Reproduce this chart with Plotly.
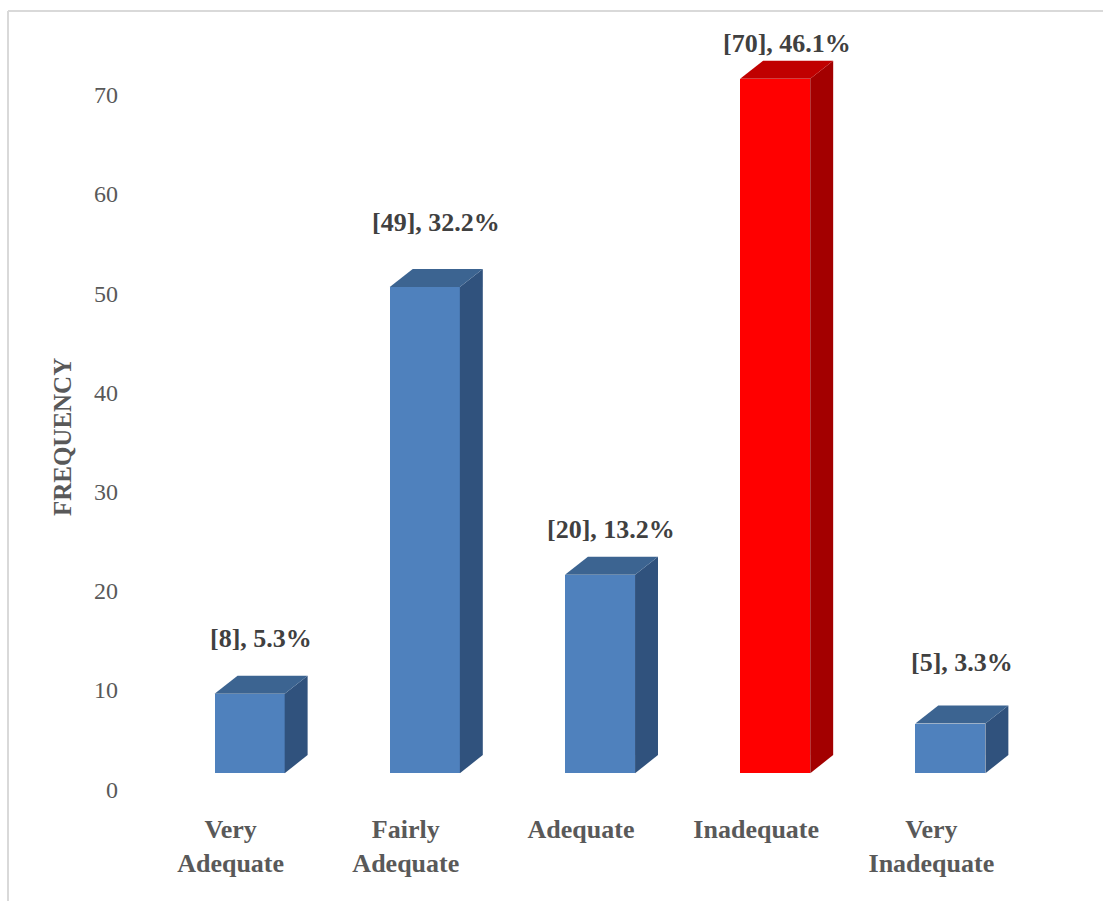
import plotly.graph_objects as go

# Survey responses
categories = ["Very<br>Adequate", "Fairly<br>Adequate", "Adequate", "Inadequate", "Very<br>Inadequate"]
frequency = [8, 49, 20, 70, 5]
percent = [5.3, 32.2, 13.2, 46.1, 3.3]
y_ticks = [0, 10, 20, 30, 40, 50, 60, 70]

# Styling
front_colors = ["#4F81BD", "#4F81BD", "#4F81BD", "#FF0000", "#4F81BD"]
top_colors = ["#3C6491", "#3C6491", "#3C6491", "#C00000", "#3C6491"]
side_colors = ["#30527D", "#30527D", "#30527D", "#A30000", "#30527D"]
label_lift = [5.6, 6.5, 4.6, 3.5, 6.2]   # vertical gap between bar top and its label

BAR_W = 0.4      # front face width (x units)
DEPTH_X = 0.131  # oblique depth along x
DEPTH_Y = 1.82   # oblique depth along y

x_pos = list(range(len(categories)))

fig = go.Figure()

# Side and top faces of each bar give the extruded look
for i, v in zip(x_pos, frequency):
    xr = i + BAR_W / 2
    xl = i - BAR_W / 2
    fig.add_trace(go.Scatter(
        x=[xr, xr + DEPTH_X, xr + DEPTH_X, xr, xr],
        y=[0, DEPTH_Y, v + DEPTH_Y, v, 0],
        fill="toself", fillcolor=side_colors[i], mode="lines",
        line=dict(width=0), hoverinfo="skip", showlegend=False))
    fig.add_trace(go.Scatter(
        x=[xl, xr, xr + DEPTH_X, xl + DEPTH_X, xl],
        y=[v, v, v + DEPTH_Y, v + DEPTH_Y, v],
        fill="toself", fillcolor=top_colors[i], mode="lines",
        line=dict(width=0), hoverinfo="skip", showlegend=False))

# Front faces
fig.add_trace(go.Bar(
    x=x_pos, y=frequency, width=BAR_W,
    marker=dict(color=front_colors, line=dict(width=0)),
    showlegend=False))

# Value labels
for i, (v, p) in enumerate(zip(frequency, percent)):
    fig.add_annotation(
        x=i + DEPTH_X / 2, y=v + label_lift[i],
        text=f"<b>[{v}], {p}%</b>", showarrow=False,
        xanchor="center", yanchor="middle",
        font=dict(family="Liberation Serif", size=26, color="#404040"))

# Axis title
fig.add_annotation(
    xref="paper", yref="paper", x=-0.0687, y=0.472,
    text="<b>FREQUENCY</b>", textangle=-90, showarrow=False,
    xanchor="center", yanchor="middle",
    font=dict(family="Liberation Serif", size=25, color="#595959"))

# Chart frame (partially out of view on the right and bottom)
frame = dict(type="line", xref="paper", yref="paper",
             line=dict(color="#D9D9D9", width=2))
fig.add_shape(**frame, x0=-0.1258, x1=1.05, y0=1.0371, y1=1.0371)
fig.add_shape(**frame, x0=-0.1258, x1=-0.1258, y0=1.0371, y1=-0.16)

fig.update_layout(
    width=1103, height=901,
    margin=dict(l=127, r=30, t=39, b=108),
    paper_bgcolor="white", plot_bgcolor="white",
    bargap=0,
    xaxis=dict(
        range=[-0.7, 4.7], tickmode="array", tickvals=x_pos, ticktext=[f"<b>{c}</b>" for c in categories],
        showgrid=False, zeroline=False, showline=False, ticks="",
        tickfont=dict(family="Liberation Serif", size=26, color="#595959"),
        ticklabelshift=-19, ticklabelstandoff=18),
    yaxis=dict(
        range=[-2, 74], tickmode="array", tickvals=y_ticks,
        showgrid=False, zeroline=False, showline=False, ticks="",
        tickfont=dict(family="Liberation Serif", size=24, color="#595959"),
        ticklabelshift=16, ticklabelstandoff=8),
)

fig.write_html("out.html")
